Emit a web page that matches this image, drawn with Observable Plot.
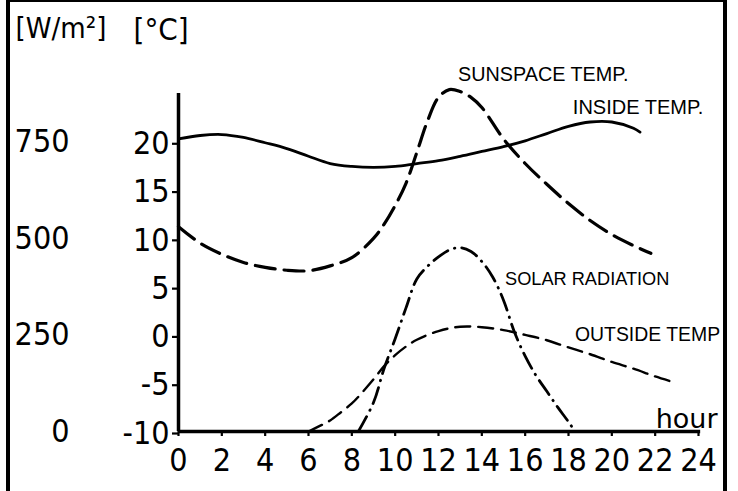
<!DOCTYPE html>
<html><head><meta charset="utf-8">
<script src="https://cdn.jsdelivr.net/npm/d3@7"></script>
<script src="https://cdn.jsdelivr.net/npm/@observablehq/plot@0.6"></script>
<style>
html,body{margin:0;padding:0;background:#fff;}
#wrap{position:relative;width:738px;height:491px;overflow:hidden;background:#fff;}
#frame{position:absolute;left:6px;top:0;width:713px;height:520px;border-left:4px solid #000;border-right:4px solid #000;border-top:2px solid #000;pointer-events:none;}
</style></head><body>
<div id="wrap"></div>
<script>
// ---- data ----
const insideHours = [0,1,2,3,4,5,6,7,8,9,10,11,12,13,14,15,16,17,18,19,20,21,21.3];
const insideTemp  = [20.3,20.65,20.75,20.45,19.9,19.3,18.5,17.75,17.45,17.35,17.45,17.75,18.05,18.5,19.0,19.5,20.1,20.85,21.6,22.05,22.05,21.4,21.0];

const sunspaceHours = [0,1,2,3,4,5,6,7,8,9,9.5,10,10.5,11,11.5,12,12.5,13,13.5,14,15,16,17,18,19,20,21,21.8];
const sunspaceTemp  = [11.2,9.5,8.35,7.5,7.0,6.7,6.65,7.15,8.0,10.0,11.5,13.4,15.7,18.9,22.2,24.6,25.4,25.2,24.6,23.55,20.3,17.75,15.6,13.6,11.85,10.4,9.25,8.45];

const outsideHours = [6,6.5,7,7.5,8,8.5,9,9.5,10,10.5,11,12,13,14,15,16,17,18,19,20,21,22,23];
const outsideTemp  = [-10,-9.45,-8.85,-8.0,-7.1,-5.9,-4.6,-3.2,-2.1,-1.2,-0.5,0.4,0.85,0.8,0.5,0.0,-0.55,-1.3,-2.0,-2.8,-3.5,-4.3,-5.0];

const solarHours = [8.3,9,9.5,10,10.5,11,11.5,12,12.5,13,13.5,14,14.5,15,15.5,16,16.5,17,17.5,18,18.3];
const solarWm2   = [0,75,165,240,320,395,428,452,470,476,466,440,400,340,258,195,145,104,63,25,0];

const hourTicks = [0,2,4,6,8,10,12,14,16,18,20,22,24];
const tempTicks = [-10,-5,0,5,10,15,20];
const wm2Ticks  = [0,250,500,750];

const labelText  = ["SUNSPACE TEMP.", "INSIDE TEMP.", "SOLAR RADIATION", "OUTSIDE TEMP"];
const labelHour  = [12.9, 18.2, 15.07, 18.3];
const labelValue = [26.97, 23.55, 5.74, 0.0];

// label font sizes (style, kept apart from the data)
const labelSize = {"SUNSPACE TEMP.": 19.8, "INSIDE TEMP.": 20, "SOLAR RADIATION": 18.2, "OUTSIDE TEMP": 19.4};

// W/m² shares the °C axis: 0 W/m² ↔ -10 °C, 250 W/m² per 10 °C
const wToC = w => w / 25 - 10;
const cToW = c => (c + 10) * 25;

const rows = (hs, vs) => hs.map((h, i) => ({hour: h, value: vs[i]}));
const inside = rows(insideHours, insideTemp);
const sunspace = rows(sunspaceHours, sunspaceTemp);
const outside = rows(outsideHours, outsideTemp);
const solar = rows(solarHours, solarWm2.map(wToC));
const labels = labelText.map((t, i) => ({text: t, hour: labelHour[i], value: labelValue[i]}));

const digitFont = "'Liberation Sans Narrow', 'DejaVu Sans Condensed', sans-serif";
const letterFont = "'Liberation Sans', Arial, sans-serif";

const chart = Plot.plot({
  width: 738, height: 491,
  marginLeft: 178, marginRight: 40, marginTop: 93, marginBottom: 60,
  x: {domain: [0, 24]},
  y: {domain: [-10, 25]},
  style: {fontFamily: digitFont, color: "#000", background: "#fff", overflow: "visible"},
  marks: [
    Plot.axisY({ticks: tempTicks, tickSize: 6, tickPadding: 3, tickFormat: d => String(d), fontSize: 32, strokeWidth: 2.2, dy: 2, label: null}),
    Plot.axisY({ticks: wm2Ticks.map(wToC), tickSize: 0, tickPadding: 109, tickFormat: d => String(Math.round(cToW(d))), fontSize: 32, label: null}),
    Plot.axisX({ticks: hourTicks, tickSize: 5, tickPadding: 12, tickFormat: d => String(d), fontSize: 32, strokeWidth: 2.2, label: null}),
    Plot.ruleX([0], {y1: -10, y2: 25, strokeWidth: 3.5}),
    Plot.ruleY([-10], {x1: 0, x2: 24.1, strokeWidth: 3.5}),
    Plot.line(inside, {x: "hour", y: "value", curve: "catmull-rom", strokeWidth: 2.8}),
    Plot.line(sunspace, {x: "hour", y: "value", curve: "catmull-rom", strokeWidth: 3.2, strokeDasharray: "20,9"}),
    Plot.line(outside, {x: "hour", y: "value", curve: "catmull-rom", strokeWidth: 2.4, strokeDasharray: "15,8"}),
    Plot.line(solar, {x: "hour", y: "value", curve: "catmull-rom", strokeWidth: 2.8, strokeDasharray: "17,7,0.5,7", strokeLinecap: "round"}),
    Plot.text(labels, {x: "hour", y: "value", text: "text", textAnchor: "start", lineAnchor: "middle", fontSize: d => labelSize[d.text], fontFamily: letterFont}),
    Plot.text(["hour"], {frameAnchor: "bottom-right", textAnchor: "end", lineAnchor: "bottom", dx: 19, dy: -4, fontSize: 27, fontFamily: "'DejaVu Sans', sans-serif"}),
    Plot.text(["[W/m²]"], {frameAnchor: "top-left", textAnchor: "start", lineAnchor: "top", dx: -163, dy: -76, fontSize: 29}),
    Plot.text(["[°C]"], {frameAnchor: "top-left", textAnchor: "start", lineAnchor: "top", dx: -45, dy: -76, fontSize: 31})
  ]
});
const wrap = document.getElementById("wrap");
wrap.appendChild(chart);
const frame = document.createElement("div");
frame.id = "frame";
wrap.appendChild(frame);
</script>
</body></html>
